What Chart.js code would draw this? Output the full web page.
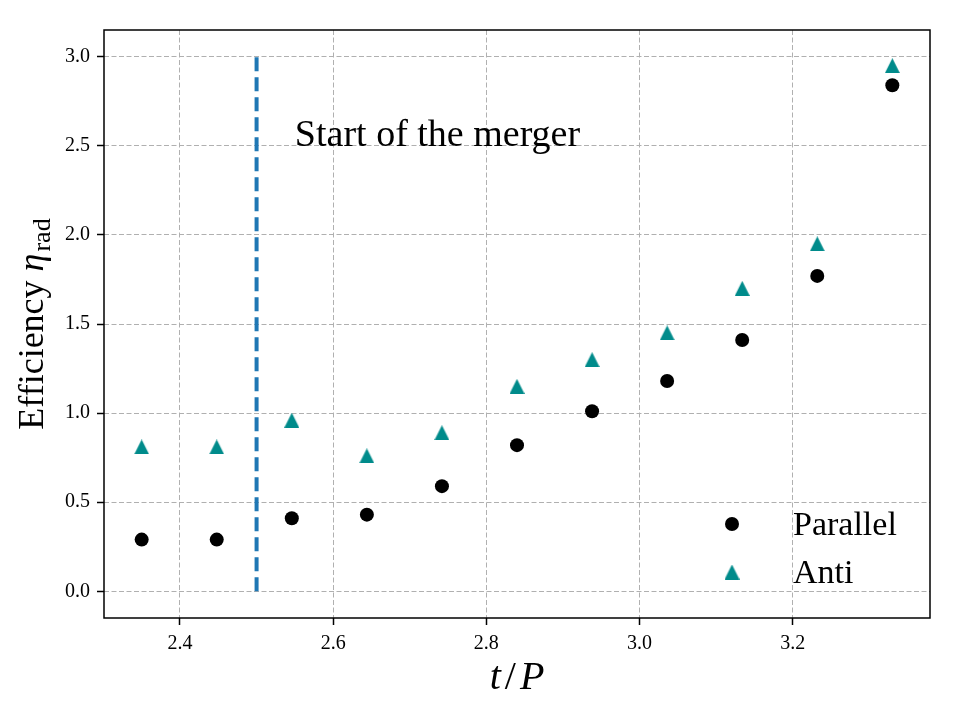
<!DOCTYPE html>
<html>
<head>
<meta charset="utf-8">
<script src="https://cdn.jsdelivr.net/npm/chart.js@4.4.0/dist/chart.umd.min.js"></script>
<style>
  html, body { margin: 0; padding: 0; background: #fff; }
  canvas { display: block; }
</style>
</head>
<body>
<canvas id="chart" width="960" height="720"></canvas>
<script>
// t/P sample times
const tValues = [2.350, 2.448, 2.546, 2.644, 2.742, 2.840, 2.938, 3.036, 3.134, 3.232, 3.330];
// radiative efficiency
const parallelEff = [0.29, 0.29, 0.41, 0.43, 0.59, 0.82, 1.01, 1.18, 1.41, 1.77, 2.84];
const antiEff = [0.81, 0.81, 0.96, 0.76, 0.89, 1.15, 1.30, 1.45, 1.70, 1.95, 2.95];

const mergerStart = 2.5;
const mergerLine = [0, 3.0];

const xTicks = [2.4, 2.6, 2.8, 3.0, 3.2];
const yTicks = [0, 0.5, 1.0, 1.5, 2.0, 2.5, 3.0];

const serif = "'Liberation Serif', 'DejaVu Serif', serif";
const teal = '#008b8b';

// triangle marker with its box centred on the point (like matplotlib '^')
const tri = document.createElement('canvas');
tri.width = 15; tri.height = 15;
(function () {
  const c = tri.getContext('2d');
  c.fillStyle = teal;
  c.beginPath();
  c.moveTo(7.5, 0);
  c.lineTo(15, 15);
  c.lineTo(0, 15);
  c.closePath();
  c.fill();
})();

const extras = {
  id: 'extras',
  afterDraw(chart) {
    const ctx = chart.ctx;
    const a = chart.chartArea;
    const xs = chart.scales.x, ys = chart.scales.y;
    ctx.save();

    // frame
    ctx.strokeStyle = '#000';
    ctx.lineWidth = 1.5;
    ctx.strokeRect(a.left, a.top, a.right - a.left, a.bottom - a.top);

    // annotation
    ctx.fillStyle = '#000';
    ctx.font = '38px ' + serif;
    ctx.textAlign = 'left';
    ctx.textBaseline = 'alphabetic';
    ctx.fillText('Start of the merger', xs.getPixelForValue(2.55), ys.getPixelForValue(2.5));

    // legend
    const lx = a.right - 198;
    const rows = [
      { label: 'Parallel', y: a.bottom - 94, circle: true },
      { label: 'Anti', y: a.bottom - 46, circle: false }
    ];
    ctx.font = '34px ' + serif;
    rows.forEach(r => {
      if (r.circle) {
        ctx.fillStyle = '#000';
        ctx.beginPath();
        ctx.arc(lx, r.y, 7, 0, Math.PI * 2);
        ctx.fill();
      } else {
        ctx.drawImage(tri, lx - 7.5, r.y - 7.5);
      }
      ctx.fillStyle = '#000';
      ctx.fillText(r.label, lx + 61, r.y + 11);
    });

    // x title: t / P drawn piece by piece to get the math spacing
    const xt = [['t', 'italic'], ['/', ''], ['P', 'italic']];
    const gap = 4;
    let total = 0;
    xt.forEach(p => {
      ctx.font = (p[1] ? p[1] + ' ' : '') + '40px ' + serif;
      p.w = ctx.measureText(p[0]).width;
      total += p.w;
    });
    total += gap * 2;
    let px = (a.left + a.right) / 2 - total / 2;
    xt.forEach(p => {
      ctx.font = (p[1] ? p[1] + ' ' : '') + '40px ' + serif;
      ctx.fillText(p[0], px, 689);
      px += p.w + gap;
    });

    // y title, with subscript
    ctx.translate(43, (a.top + a.bottom) / 2);
    ctx.rotate(-Math.PI / 2);
    ctx.textAlign = 'left';
    const main = 'Efficiency ';
    ctx.font = '36px ' + serif;
    const w1 = ctx.measureText(main).width;
    ctx.font = 'italic 36px ' + serif;
    const w2 = ctx.measureText('η').width;
    ctx.font = '26px ' + serif;
    const w3 = ctx.measureText('rad').width;
    let x0 = -(w1 + w2 + 2 + w3) / 2;
    ctx.font = '36px ' + serif;
    ctx.fillText(main, x0, 0);
    ctx.font = 'italic 36px ' + serif;
    ctx.fillText('η', x0 + w1, 0);
    ctx.font = '26px ' + serif;
    ctx.fillText('rad', x0 + w1 + w2 + 2, 7);

    ctx.restore();
  }
};

const ctx = document.getElementById('chart').getContext('2d');
const myChart = new Chart(ctx, {
  type: 'scatter',
  data: {
    datasets: [
      {
        label: 'Parallel',
        data: tValues.map((t, i) => ({ x: t, y: parallelEff[i] })),
        pointStyle: 'circle',
        pointRadius: 7,
        backgroundColor: '#000',
        borderColor: '#000',
        borderWidth: 0
      },
      {
        label: 'Anti',
        data: tValues.map((t, i) => ({ x: t, y: antiEff[i] })),
        pointStyle: tri,
        pointRadius: 7,
        backgroundColor: teal,
        borderColor: teal
      },
      {
        type: 'line',
        label: 'merger',
        data: mergerLine.map(v => ({ x: mergerStart, y: v })),
        borderColor: '#1f77b4',
        borderWidth: 4,
        borderDash: [14, 6],
        pointRadius: 0,
        fill: false
      }
    ]
  },
  options: {
    responsive: false,
    animation: false,
    events: [],
    layout: { padding: { top: 30, right: 30, left: 0, bottom: 0 } },
    plugins: {
      legend: { display: false },
      tooltip: { enabled: false }
    },
    scales: {
      x: {
        type: 'linear',
        min: 2.3008,
        max: 3.3792,
        afterBuildTicks: s => { s.ticks = xTicks.map(v => ({ value: v })); },
        afterFit: s => { s.height = 102; },
        grid: {
          color: '#b0b0b0',
          lineWidth: 1,
          tickLength: 7,
          tickColor: '#000',
          tickWidth: 1.5,
          tickBorderDash: [10, 0]
        },
        border: { display: false, dash: [5, 2.5] },
        ticks: {
          color: '#000',
          padding: 7,
          font: { family: serif, size: 20 },
          callback: v => v.toFixed(1)
        }
      },
      y: {
        type: 'linear',
        min: -0.15,
        max: 3.15,
        afterBuildTicks: s => { s.ticks = yTicks.map(v => ({ value: v })); },
        afterFit: s => { s.width = 104; },
        grid: {
          color: '#b0b0b0',
          lineWidth: 1,
          tickLength: 7,
          tickColor: '#000',
          tickWidth: 1.5,
          tickBorderDash: [10, 0]
        },
        border: { display: false, dash: [5, 2.5] },
        ticks: {
          color: '#000',
          padding: 7,
          font: { family: serif, size: 20 },
          callback: v => v.toFixed(1)
        }
      }
    }
  },
  plugins: [extras]
});
</script>
</body>
</html>
